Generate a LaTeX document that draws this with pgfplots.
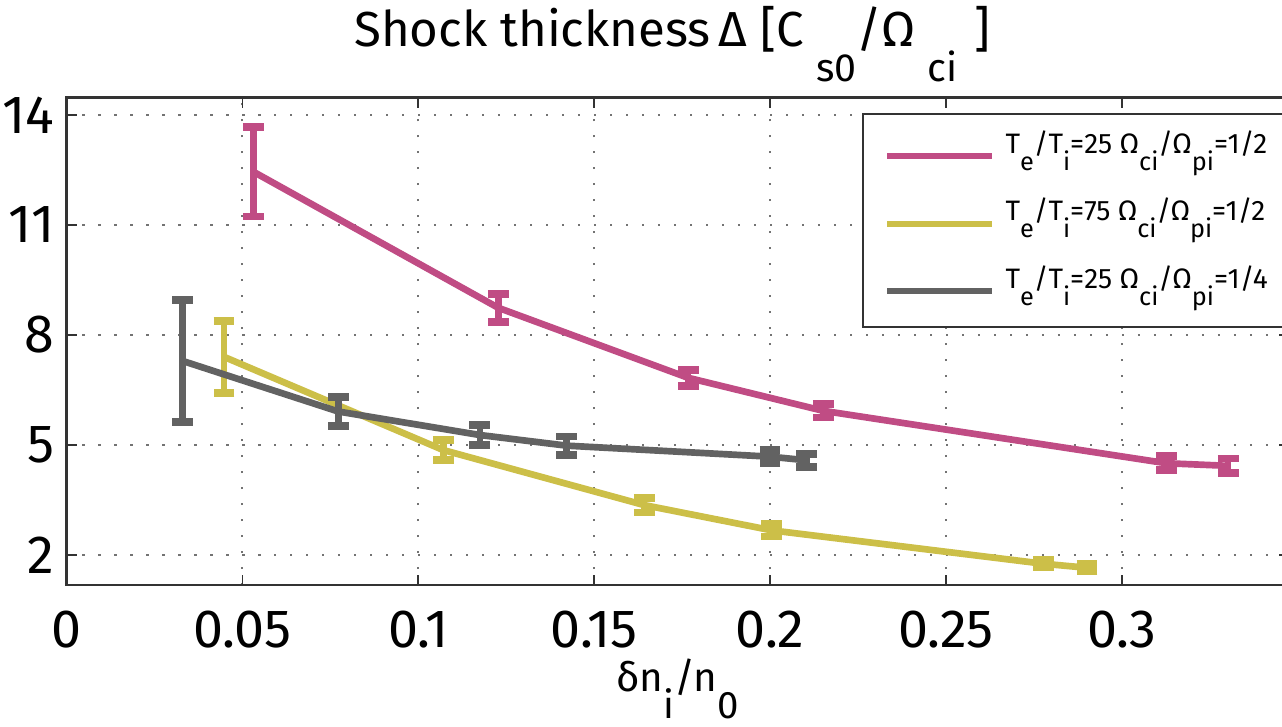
\documentclass[border=0pt]{standalone}
\usepackage{fontspec}
\setmainfont{Fira Sans}
\usepackage{pgfplots}
\usepackage{pgfplotstable}
\pgfplotsset{compat=1.18}

\definecolor{cpink}{RGB}{192,76,132}
\definecolor{cyell}{RGB}{204,191,72}
\definecolor{cgrey}{RGB}{98,98,98}

% low, nearly full-size subscripts as in the original figure
\newcommand\ts[1]{\raisebox{-0.72em}{\scalebox{0.8}{#1}}}
\newcommand\ls[1]{\raisebox{-0.6em}{\scalebox{0.9}{#1}}}
\newcommand\xs[1]{\raisebox{-0.68em}{\scalebox{0.95}{#1}}}

\pgfplotstableread{
x y e
0.0531 12.45 1.22
0.1227 8.74 0.38
0.1767 6.83 0.22
0.2151 5.93 0.18
0.3127 4.50 0.19
0.3302 4.43 0.20
}\pinkdata

\pgfplotstableread{
x y e
0.0448 7.40 0.98
0.1071 4.86 0.27
0.1642 3.36 0.20
0.2005 2.67 0.17
0.2777 1.76 0.10
0.2901 1.65 0.10
}\yelldata

\pgfplotstableread{
x y e
0.0330 7.29 1.67
0.0773 5.91 0.39
0.1175 5.27 0.27
0.1422 4.98 0.25
0.2000 4.68 0.18
0.2104 4.58 0.18
}\greydata

\begin{document}
\begin{tikzpicture}
\useasboundingbox (-0.665,-1.41) rectangle (12.155,5.85);
\clip (-0.665,-1.41) rectangle (12.155,5.85);
\begin{axis}[
    at={(0,0)}, anchor=south west,
    scale only axis,
    width=12.22cm, height=4.874cm,
    xmin=0, xmax=0.34736,
    ymin=1.18, ymax=14.47,
    xtick={0,0.05,0.1,0.15,0.2,0.25,0.3},
    xticklabels={0,0.05,0.1,0.15,0.2,0.25,0.3},
    ytick={2,5,8,11,14},
    tick align=inside,
    major tick length=0.1cm,
    every tick/.style={black!80, line width=0.5pt},
    axis line style={black!80, line width=0.7pt},
    xmajorgrids, ymajorgrids,
    grid style={black!55, line width=0.6pt, dash pattern=on 0.6pt off 3.95pt},
    /pgf/number format/assume math mode=true,
    ticklabel style={font=\fontsize{15.3}{18}\selectfont, inner sep=0pt},
    xticklabel style={anchor=base, yshift=-0.62cm},
    yticklabel style={anchor=east, xshift=-0.115cm},
    title={Shock thickness\,Δ [C\hspace{0.25em}\ts{s0}/Ω\hspace{0.25em}\ts{ci}\hspace{0.35em}]},
    title style={font=\fontsize{14}{16}\selectfont, at={(0.5,1)}, anchor=base,
        yshift=0.30cm, xshift=-0.05cm, inner sep=0pt},
    xlabel={δn\xs{i}/n\xs{0}},
    xlabel style={font=\fontsize{11.5}{13}\selectfont, at={(axis description cs:0.5,0)},
        anchor=base, yshift=-1.06cm, inner sep=0pt},
    legend style={at={(0.651,0.9684)}, anchor=north west,
        draw=black!80, line width=0.7pt, fill=white,
        font=\fontsize{8}{9}\selectfont,
        inner xsep=0.21cm, inner ysep=0.06cm, row sep=0.015cm,
        nodes={inner sep=0pt, text height=0.33cm, text depth=0.33cm},
        /tikz/every odd column/.append style={column sep=0.1cm}},
    legend cell align=left,
    legend image code/.code={\draw[#1, line width=1.8pt] (0cm,-0.03cm) -- (1.05cm,-0.03cm);},
    every axis plot/.append style={line width=1.9pt, line join=round},
    error bars/error bar style={line width=1.9pt},
    error bars/error mark options={line width=2.2pt, mark size=2.95pt, rotate=90},
]
\addplot[color=cpink, error bars/.cd, y dir=both, y explicit]
    table[x=x, y=y, y error=e] {\pinkdata};
\addplot[color=cyell, error bars/.cd, y dir=both, y explicit]
    table[x=x, y=y, y error=e] {\yelldata};
\addplot[color=cgrey, error bars/.cd, y dir=both, y explicit]
    table[x=x, y=y, y error=e] {\greydata};
\legend{T\ls{e}/T\ls{i}=25 Ω\ls{ci}/Ω\ls{pi}=1/2,
        T\ls{e}/T\ls{i}=75 Ω\ls{ci}/Ω\ls{pi}=1/2,
        T\ls{e}/T\ls{i}=25 Ω\ls{ci}/Ω\ls{pi}=1/4}
\end{axis}
\end{tikzpicture}
\end{document}
